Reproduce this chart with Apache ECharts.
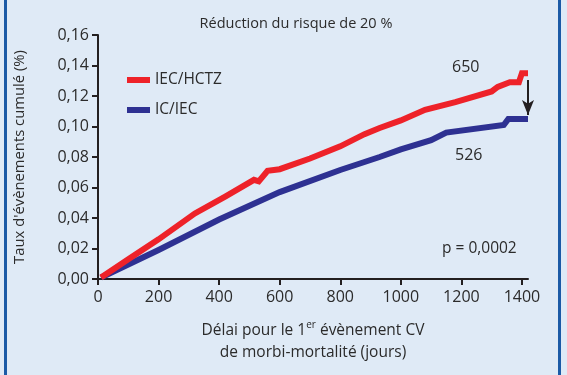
<!DOCTYPE html>
<html>
<head>
<meta charset="utf-8">
<script src="https://cdn.jsdelivr.net/npm/echarts@6/dist/echarts.min.js"></script>
<style>
    html, body { margin: 0; padding: 0; background: #dfeaf6; }
    #chart { width: 567px; height: 375px; }
</style>
</head>
<body>
<div id="chart"></div>
<script>
// jours
var xTicks = [0, 200, 400, 600, 800, 1000, 1200, 1400];
var yTicks = [0, 0.02, 0.04, 0.06, 0.08, 0.10, 0.12, 0.14, 0.16];

// IEC/HCTZ (rouge)
var redDays = [10, 100, 200, 320, 420, 515, 531, 560, 600, 700, 800, 880, 930, 1000, 1080, 1180, 1300, 1320, 1360, 1390, 1400, 1420];
var redRate = [0.001, 0.013, 0.026, 0.043, 0.054, 0.065, 0.064, 0.071, 0.072, 0.079, 0.087, 0.095, 0.099, 0.104, 0.111, 0.116, 0.123, 0.126, 0.129, 0.129, 0.135, 0.135];

// IC/IEC (bleu)
var blueDays = [10, 200, 400, 600, 800, 930, 1000, 1100, 1150, 1340, 1355, 1420];
var blueRate = [0.001, 0.019, 0.039, 0.057, 0.0715, 0.080, 0.085, 0.091, 0.096, 0.101, 0.105, 0.105];

var seriesNames = ['IEC/HCTZ', 'IC/IEC'];
var seriesColors = ['#ee2229', '#2e3192'];

function pairs(xs, ys) {
    return xs.map(function (x, i) { return [x, ys[i]]; });
}

var font = 'Open Sans';
var textColor = '#2b2b2b';

var chart = echarts.init(document.getElementById('chart'));

var option = {
    backgroundColor: '#dfeaf6',
    animation: false,
    title: {
        text: 'Réduction du risque de 20 %',
        left: 291,
        top: 11,
        textAlign: 'center',
        textStyle: {fontFamily: font, fontSize: 14.5, fontWeight: 'normal', color: textColor}
    },
    legend: {
        orient: 'vertical',
        left: 122,
        top: 67,
        icon: 'rect',
        itemWidth: 23,
        itemHeight: 6,
        itemGap: 14,
        textStyle: {fontFamily: font, fontSize: 15.5, color: textColor},
        data: seriesNames
    },
    grid: {left: 98, right: 39, top: 35, bottom: 96, containLabel: false},
    xAxis: {
        type: 'value',
        min: 0,
        max: 1420,
        name: 'Délai pour le 1{sup|er} évènement CV\nde morbi-mortalité (jours)',
        nameLocation: 'middle',
        nameGap: 41,
        nameTextStyle: {
            fontFamily: font, fontSize: 15.5, color: textColor, lineHeight: 22,
            rich: {sup: {fontFamily: font, fontSize: 10, color: textColor, verticalAlign: 'top', padding: [0, 0, 8, 0]}}
        },
        axisLine: {lineStyle: {color: '#231f20', width: 2}},
        axisTick: {show: true, length: 6, lineStyle: {color: '#231f20', width: 2}, customValues: xTicks},
        axisLabel: {
            fontFamily: font, fontSize: 16, color: textColor, margin: 10, customValues: xTicks,
            formatter: function (v) { return String(v); }
        },
        splitLine: {show: false}
    },
    yAxis: {
        type: 'value',
        min: 0,
        max: 0.16,
        interval: 0.02,
        name: "Taux d'évènements cumulé (%)",
        nameLocation: 'middle',
        nameGap: 71,
        nameTextStyle: {fontFamily: font, fontSize: 14.8, color: textColor},
        axisLine: {show: true, lineStyle: {color: '#231f20', width: 2}},
        axisTick: {show: true, length: 6, lineStyle: {color: '#231f20', width: 2}},
        axisLabel: {
            fontFamily: font, fontSize: 16, color: textColor, margin: 9,
            formatter: function (v) { return v.toFixed(2).replace('.', ','); }
        },
        splitLine: {show: false}
    },
    series: [
        {
            name: seriesNames[1],
            type: 'line',
            color: seriesColors[1],
            symbol: 'none',
            lineStyle: {width: 6, color: seriesColors[1], join: 'miter'},
            data: pairs(blueDays, blueRate)
        },
        {
            name: seriesNames[0],
            type: 'line',
            color: seriesColors[0],
            symbol: 'none',
            lineStyle: {width: 6, color: seriesColors[0], join: 'miter'},
            data: pairs(redDays, redRate),
            markLine: {
                silent: true,
                symbol: ['none', 'arrow'],
                symbolSize: [9, 15],
                label: {show: false},
                lineStyle: {color: '#231f20', width: 2, type: 'solid'},
                data: [[{coord: [1420, 0.1305]}, {coord: [1420, 0.1075]}]]
            }
        }
    ],
    graphic: [
        {type: 'rect', left: 4, top: 0, shape: {width: 3, height: 375}, style: {fill: '#1b5aa6'}},
        {type: 'rect', left: 558, top: 0, shape: {width: 3, height: 375}, style: {fill: '#1b5aa6'}},
        {type: 'text', left: 452, top: 59, style: {text: '650', font: '16px "Open Sans"', fill: textColor}},
        {type: 'text', left: 455, top: 147, style: {text: '526', font: '16px "Open Sans"', fill: textColor}},
        {type: 'text', left: 442, top: 241, style: {text: 'p = 0,0002', font: '15.5px "Open Sans"', fill: textColor}}
    ]
};

chart.setOption(option);
</script>
</body>
</html>
